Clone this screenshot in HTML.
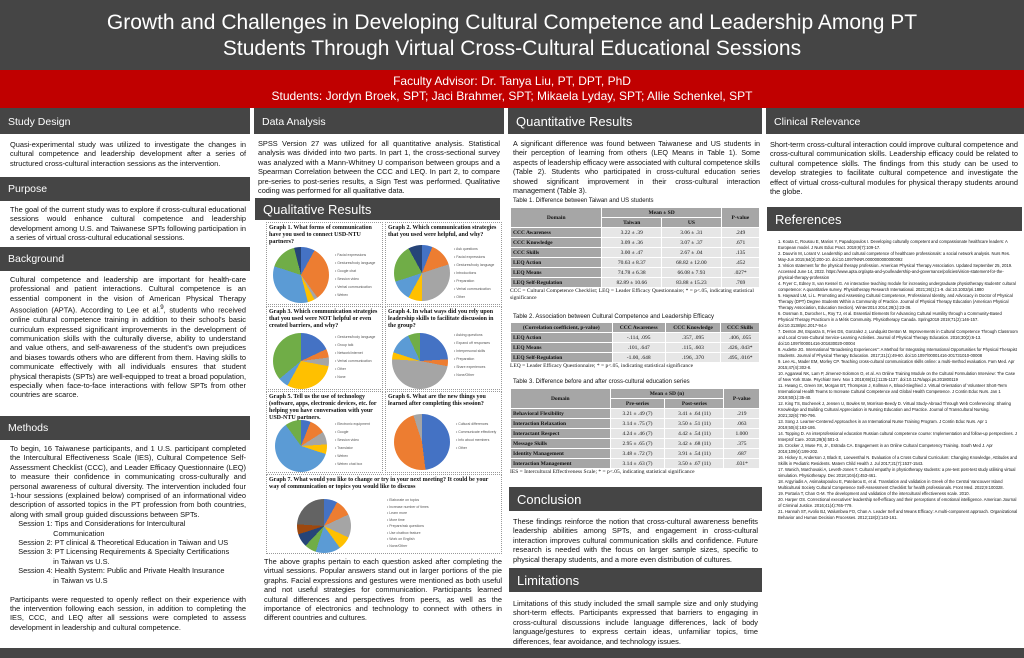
<!DOCTYPE html>
<html><head><meta charset="utf-8"><style>
*{margin:0;padding:0;box-sizing:border-box}
body{width:1024px;height:658px;overflow:hidden;background:#fff;font-family:"Liberation Sans",sans-serif;position:relative;color:#111}
.a{position:absolute}
.hdr{background:#454545;color:#fff;font-size:10.5px;padding:6px 8px;height:24px}
.hdr.big{font-size:13px;height:24px;padding:5px 8px}
.t{font-size:7.4px;line-height:9.4px;text-align:justify}
.ref{font-size:4.2px;line-height:6px}
table{border-collapse:collapse;font-family:"Liberation Serif",serif;font-size:5.5px;width:100%}
td,th{border:1px solid #fff;padding:1px 2px;text-align:center;height:10px}
th{background:#a6a6a6}
td.l{background:#a6a6a6;text-align:left;font-weight:bold}
td{background:#e6e6e6}
.cap{font-size:6px}
.g{border:1px dotted #999;background:#fff}
.gt{font-family:"Liberation Serif",serif;font-size:6px;font-weight:bold;line-height:7px;padding:2px}
.pie{border-radius:50%;position:absolute}
.lg{position:absolute;font-size:3.5px;line-height:8px;color:#555}
</style></head><body>
<div class="a" style="left:0;top:0;width:1024px;height:70px;background:#454545"></div>
<div class="a" style="left:0;top:10px;width:1024px;text-align:center;color:#fff;font-size:21px;line-height:26px">Growth and Challenges in Developing Cultural Competence and Leadership Among PT<br>Students Through Virtual Cross-Cultural Educational Sessions</div>
<div class="a" style="left:0;top:70px;width:1024px;height:38px;background:#c00000;color:#fff;text-align:center;font-size:12px;line-height:15px;padding-top:4px">Faculty Advisor: Dr. Tanya Liu, PT, DPT, PhD<br>Students: Jordyn Broek, SPT; Jaci Brahmer, SPT; Mikaela Lyday, SPT; Allie Schenkel, SPT</div>
<div class="a" style="left:0;top:648px;width:1024px;height:10px;background:#454545"></div>
<!-- col1 -->
<div class="a hdr" style="left:0;top:108px;width:250px;height:26px;padding-top:8px">Study Design</div>
<div class="a t" style="left:10px;top:140px;width:236px">Quasi-experimental study was utilized to investigate the changes in cultural competence and leadership development after a series of structured cross-cultural interaction sessions as the intervention.</div>
<div class="a hdr" style="left:0;top:177px;width:250px">Purpose</div>
<div class="a t" style="left:10px;top:205px;width:236px">The goal of the current study was to explore if cross-cultural educational sessions would enhance cultural competence and leadership development among U.S. and Taiwanese SPTs following participation in a series of virtual cross-cultural educational sessions.</div>
<div class="a hdr" style="left:0;top:247px;width:250px">Background</div>
<div class="a t" style="left:10px;top:275px;width:236px">Cultural competence and leadership are important for health-care professional and patient interactions. Cultural competence is an essential component in the vision of American Physical Therapy Association (APTA). According to Lee et al.<sup>9</sup>, students who received online cultural competence training in addition to their school's basic curriculum expressed significant improvements in the development of communication skills with the culturally diverse, ability to understand and value others, and self-awareness of the student's own prejudices and biases towards others who are different from them. Having skills to communicate effectively with all individuals ensures that student physical therapists (SPTs) are well-equipped to treat a broad population, especially when face-to-face interactions with fellow SPTs from other countries are scarce.</div>
<div class="a hdr" style="left:0;top:416px;width:250px">Methods</div>
<div class="a t" style="left:10px;top:444px;width:236px">To begin, 16 Taiwanese participants, and 1 U.S. participant completed the Intercultural Effectiveness Scale (IES), Cultural Competence Self-Assessment Checklist (CCC), and Leader Efficacy Questionnaire (LEQ) to measure their confidence in communicating cross-culturally and personal awareness of cultural diversity. The intervention included four 1-hour sessions (explained below) comprised of an informational video description of assorted topics in the PT profession from both countries, along with small group guided discussions between SPTs.<br>&nbsp;&nbsp;&nbsp;&nbsp;Session 1: Tips and Considerations for Intercultural<br>&nbsp;&nbsp;&nbsp;&nbsp;&nbsp;&nbsp;&nbsp;&nbsp;&nbsp;&nbsp;&nbsp;&nbsp;&nbsp;&nbsp;&nbsp;&nbsp;&nbsp;&nbsp;&nbsp;&nbsp;&nbsp;Communication<br>&nbsp;&nbsp;&nbsp;&nbsp;Session 2: PT clinical &amp; Theoretical Education in Taiwan and US<br>&nbsp;&nbsp;&nbsp;&nbsp;Session 3: PT Licensing Requirements &amp; Specialty Certifications<br>&nbsp;&nbsp;&nbsp;&nbsp;&nbsp;&nbsp;&nbsp;&nbsp;&nbsp;&nbsp;&nbsp;&nbsp;&nbsp;&nbsp;&nbsp;&nbsp;&nbsp;&nbsp;&nbsp;&nbsp;&nbsp;in Taiwan vs U.S.<br>&nbsp;&nbsp;&nbsp;&nbsp;Session 4: Health System: Public and Private Health Insurance<br>&nbsp;&nbsp;&nbsp;&nbsp;&nbsp;&nbsp;&nbsp;&nbsp;&nbsp;&nbsp;&nbsp;&nbsp;&nbsp;&nbsp;&nbsp;&nbsp;&nbsp;&nbsp;&nbsp;&nbsp;&nbsp;in Taiwan vs U.S<br><br>Participants were requested to openly reflect on their experience with the intervention following each session, in addition to completing the IES, CCC, and LEQ after all sessions were completed to assess development in leadership and cultural competence.</div>
<!-- col2 -->
<div class="a hdr" style="left:254px;top:108px;width:250px;height:26px;padding-top:8px">Data Analysis</div>
<div class="a t" style="left:258px;top:139px;width:242px">SPSS Version 27 was utilized for all quantitative analysis. Statistical analysis was divided into two parts. In part 1, the cross-sectional survey was analyzed with a Mann-Whitney U comparison between groups and a Spearman Correlation between the CCC and LEQ. In part 2, to compare pre-series to post-series results, a Sign Test was performed. Qualitative coding was performed for all qualitative data.</div>
<div class="a hdr big" style="left:255px;top:198px;width:245px;height:22px;padding-top:4px">Qualitative Results</div>
<div class="a g" style="left:266px;top:222px;width:117px;height:83px"><div class="gt">Graph 1. What forms of communication have you used to connect USD-NTU partners?</div><div class="pie" style="left:6px;top:24px;width:56px;height:56px;background:conic-gradient(#4472c4 0 8%,#ed7d31 8% 40%,#a5a5a5 40% 42%,#ffc000 42% 46%,#5b9bd5 46% 80%,#70ad47 80% 96%,#264478 96%)"></div><div class="lg" style="left:68px;top:28px">• Facial expressions<br>• Gestures/body language<br>• Google chat<br>• Session video<br>• Verbal communication<br>• Webex</div></div>
<div class="a g" style="left:385px;top:222px;width:117px;height:83px"><div class="gt">Graph 2. Which communication strategies that you used were helpful, and why?</div><div class="pie" style="left:8px;top:22px;width:56px;height:56px;background:conic-gradient(#4472c4 0 6%,#ed7d31 6% 20%,#a5a5a5 20% 50%,#ffc000 50% 58%,#5b9bd5 58% 70%,#70ad47 70% 92%,#264478 92%)"></div><div class="lg" style="left:68px;top:22px">• Ask questions<br>• Facial expressions<br>• Gestures/body language<br>• Introductions<br>• Preparation<br>• Verbal communication<br>• Other</div></div>
<div class="a g" style="left:266px;top:306px;width:117px;height:84px"><div class="gt">Graph 3. Which communication strategies that you used were NOT helpful or even created barriers, and why?</div><div class="pie" style="left:6px;top:26px;width:56px;height:56px;background:conic-gradient(#4472c4 0 18%,#ed7d31 18% 23%,#a5a5a5 23% 28%,#ffc000 28% 58%,#5b9bd5 58% 64%,#70ad47 64%)"></div><div class="lg" style="left:68px;top:26px">• Gestures/body language<br>• Group talk<br>• Network/internet<br>• Verbal communication<br>• Other<br>• None</div></div>
<div class="a g" style="left:385px;top:306px;width:117px;height:84px"><div class="gt">Graph 4. In what ways did you rely upon leadership skills to facilitate discussion in the group?</div><div class="pie" style="left:6px;top:26px;width:56px;height:56px;background:conic-gradient(#4472c4 0 24%,#ed7d31 24% 28%,#a5a5a5 28% 76%,#ffc000 76% 80%,#5b9bd5 80% 93%,#70ad47 93%)"></div><div class="lg" style="left:68px;top:24px">• Asking questions<br>• Expand off responses<br>• Interpersonal skills<br>• Preparation<br>• Share experiences<br>• None/Other</div></div>
<div class="a g" style="left:266px;top:391px;width:117px;height:82px"><div class="gt">Graph 5. Tell us the use of technology (software, apps, electronic devices, etc. for helping you have conversation with your USD-NTU partners.</div><div class="pie" style="left:8px;top:28px;width:52px;height:52px;background:conic-gradient(#4472c4 0 6%,#ed7d31 6% 16%,#a5a5a5 16% 24%,#ffc000 24% 30%,#5b9bd5 30% 90%,#70ad47 90%)"></div><div class="lg" style="left:68px;top:28px">• Electronic equipment<br>• Google<br>• Session video<br>• Translator<br>• Webex<br>• Webex chat box</div></div>
<div class="a g" style="left:385px;top:391px;width:117px;height:82px"><div class="gt">Graph 6. What are the new things you learned after completing this session?</div><div class="pie" style="left:8px;top:22px;width:56px;height:56px;background:conic-gradient(#4472c4 0 48%,#ed7d31 48% 95%,#a5a5a5 95%)"></div><div class="lg" style="left:70px;top:28px">• Cultural differences<br>• Communicate effectively<br>• Info about members<br>• Other</div></div>
<div class="a g" style="left:266px;top:474px;width:236px;height:80px"><div class="gt">Graph 7. What would you like to change or try in your next meeting? It could be your way of communication or topics you would like to discuss</div><div class="pie" style="left:30px;top:24px;width:54px;height:54px;background:conic-gradient(#4472c4 0 8%,#ed7d31 8% 18%,#a5a5a5 18% 32%,#ffc000 32% 40%,#5b9bd5 40% 55%,#70ad47 55% 62%,#264478 62% 70%,#9e480e 70% 76%,#636363 76%)"></div><div class="lg" style="left:120px;top:22px;line-height:6.5px">• Elaborate on topics<br>• Increase number of times<br>• Learn more<br>• More time<br>• Prepare/ask questions<br>• Use chatbox feature<br>• Work on English<br>• None/Other</div></div>
<div class="a t" style="left:264px;top:557px;width:238px">The above graphs pertain to each question asked after completing the virtual sessions. Popular answers stand out in larger portions of the pie graphs. Facial expressions and gestures were mentioned as both useful and not useful strategies for communication. Participants learned cultural differences and perspectives from peers, as well as the importance of electronics and technology to connect with others in different countries and cultures.</div>
<!-- col3 -->
<div class="a hdr big" style="left:508px;top:108px;width:254px;height:26px;padding-top:6px">Quantitative Results</div>
<div class="a t" style="left:513px;top:139px;width:247px;font-size:7.2px">A significant difference was found between Taiwanese and US students in their perception of learning from others (LEQ Means in Table 1). Some aspects of leadership efficacy were associated with cultural competence skills (Table 2). Students who participated in cross-cultural education series showed significant improvement in their cross-cultural interaction management (Table 3).</div>
<div class="a cap" style="left:513px;top:198px">Table 1. Difference between Taiwan and US students</div>
<div class="a" style="left:510px;top:207px;width:250px"><table>
<tr><th rowspan="2">Domain</th><th colspan="2">Mean ± SD</th><th rowspan="2">P-value</th></tr>
<tr><th>Taiwan</th><th>US</th></tr>
<tr><td class="l">CCC Awareness</td><td>3.22 ± .39</td><td>3.06 ± .31</td><td>.249</td></tr>
<tr><td class="l">CCC Knowledge</td><td>3.09 ± .36</td><td>3.07 ± .37</td><td>.671</td></tr>
<tr><td class="l">CCC Skills</td><td>3.00 ± .47</td><td>2.67 ± .04</td><td>.135</td></tr>
<tr><td class="l">LEQ Action</td><td>70.63 ± 8.37</td><td>68.82 ± 12.00</td><td>.452</td></tr>
<tr><td class="l">LEQ Means</td><td>74.78 ± 6.38</td><td>66.08 ± 7.93</td><td>.027*</td></tr>
<tr><td class="l">LEQ Self-Regulation</td><td>82.89 ± 10.66</td><td>83.88 ± 15.23</td><td>.769</td></tr></table>
<div style="font-family:'Liberation Serif',serif;font-size:5.5px;line-height:7px">CCC = Cultural Competence Checklist; LEQ = Leader Efficacy Questionnaire; * = p&lt;.05, indicating statistical significance</div></div>
<div class="a cap" style="left:513px;top:314px">Table 2. Association between Cultural Competence and Leadership Efficacy</div>
<div class="a" style="left:510px;top:322px;width:250px"><table>
<tr><th>(Correlation coefficient, p-value)</th><th>CCC Awareness</th><th>CCC Knowledge</th><th>CCC Skills</th></tr>
<tr><td class="l">LEQ Action</td><td>-.114, .095</td><td>.357, .095</td><td>.406, .055</td></tr>
<tr><td class="l">LEQ Means</td><td>.101, .647</td><td>.115, .603</td><td>.426, .043*</td></tr>
<tr><td class="l">LEQ Self-Regulation</td><td>-1.00, .648</td><td>.196, .370</td><td>.495, .016*</td></tr></table>
<div style="font-family:'Liberation Serif',serif;font-size:5.5px;line-height:7px">LEQ = Leader Efficacy Questionnaire; * = p&lt;.05, indicating statistical significance</div></div>
<div class="a cap" style="left:513px;top:379px">Table 3. Difference before and after cross-cultural education series</div>
<div class="a" style="left:510px;top:388px;width:250px"><table>
<tr><th rowspan="2">Domain</th><th colspan="2">Mean ± SD (n)</th><th rowspan="2">P-value</th></tr>
<tr><th>Pre-series</th><th>Post-series</th></tr>
<tr><td class="l">Behavioral Flexibility</td><td>3.21 ± .49 (7)</td><td>3.41 ± .64 (11)</td><td>.219</td></tr>
<tr><td class="l">Interaction Relaxation</td><td>3.14 ± .75 (7)</td><td>3.50 ± .51 (11)</td><td>.063</td></tr>
<tr><td class="l">Interactant Respect</td><td>4.24 ± .46 (7)</td><td>4.42 ± .54 (11)</td><td>1.000</td></tr>
<tr><td class="l">Message Skills</td><td>2.95 ± .65 (7)</td><td>3.42 ± .68 (11)</td><td>.375</td></tr>
<tr><td class="l">Identity Management</td><td>3.48 ± .72 (7)</td><td>3.91 ± .54 (11)</td><td>.687</td></tr>
<tr><td class="l">Interaction Management</td><td>3.14 ± .63 (7)</td><td>3.50 ± .67 (11)</td><td>.031*</td></tr></table>
<div style="font-family:'Liberation Serif',serif;font-size:5.5px;line-height:7px">IES = Intercultural Effectiveness Scale; * = p&lt;.05, indicating statistical significance</div></div>
<div class="a hdr big" style="left:509px;top:487px;width:253px">Conclusion</div>
<div class="a t" style="left:513px;top:517px;width:245px">These findings reinforce the notion that cross-cultural awareness benefits leadership abilities among SPTs, and engagement in cross-cultural interaction improves cultural communication skills and confidence. Future research is needed with the focus on larger sample sizes, specific to physical therapy students, and a more even distribution of cultures.</div>
<div class="a hdr big" style="left:509px;top:568px;width:253px">Limitations</div>
<div class="a t" style="left:513px;top:599px;width:245px">Limitations of this study included the small sample size and only studying short-term effects. Participants expressed that barriers to engaging in cross-cultural discussions include language differences, lack of body language/gestures to express certain ideas, unfamiliar topics, time differences, fear avoidance, and technology issues.</div>
<!-- col4 -->
<div class="a hdr" style="left:766px;top:108px;width:258px;height:26px;padding-top:8px">Clinical Relevance</div>
<div class="a t" style="left:770px;top:140px;width:248px">Short-term cross-cultural interaction could improve cultural competence and cross-cultural communication skills. Leadership efficacy could be related to cultural competence skills. The findings from this study can be used to develop strategies to facilitate cultural competence and investigate the effect of virtual cross-cultural modules for physical therapy students around the globe.</div>
<div class="a hdr big" style="left:767px;top:207px;width:255px">References</div>
<div class="a ref" style="left:778px;top:239px;width:240px">1. Kouta C, Rousou E, Marios Y, Papadopoulos I. Developing culturally competent and compassionate healthcare leaders: A European model. J Nurs Educ Pract. 2019;9(7):109-17.<br>2. Dauvrin M, Lorant V. Leadership and cultural competence of healthcare professionals: a social network analysis. Nurs Res. May-Jun 2015;64(3):200-10. doi:10.1097/NNR.0000000000000092<br>3. Vision statement for the physical therapy profession. American Physical Therapy Association. Updated September 25, 2019. Accessed June 14, 2022. https://www.apta.org/apta-and-you/leadership-and-governance/policies/vision-statement-for-the-physical-therapy-profession<br>4. Fryer C, Edney S, van Kessel G. An interactive teaching module for increasing undergraduate physiotherapy students' cultural competence: A quantitative survey. Physiotherapy Research International. 2021;26(1):1-9. doi:10.1002/pri.1880<br>5. Hayward LM, Li L. Promoting and Assessing Cultural Competence, Professional Identity, and Advocacy in Doctor of Physical Therapy (DPT) Degree Students Within a Community of Practice. Journal of Physical Therapy Education (American Physical Therapy Association, Education Section). Winter2014 2014;28(1):23-36.<br>6. Oosman S, Durocher L, Roy TJ, et al. Essential Elements for Advancing Cultural Humility through a Community-Based Physical Therapy Practicum in a Métis Community. Physiotherapy Canada. Spring2019 2019;71(2):146-157. doi:10.3138/ptc.2017-94.e<br>7. Denton JM, Esparza S, Fries DS, Gonzalez J, Lundquist Denton M. Improvements in Cultural Competence Through Classroom and Local Cross-Cultural Service-Learning Activities. Journal of Physical Therapy Education. 2016;30(2):6-13. doi:10.1097/00001416-201630020-00004<br>8. Audette JG. International "Broadening Experiences": A Method for Integrating International Opportunities for Physical Therapist Students. Journal of Physical Therapy Education. 2017;31(1):49-60. doi:10.1097/00001416-201731010-00008<br>9. Lee AL, Mader EM, Morley CP. Teaching cross-cultural communication skills online: a multi-method evaluation. Fam Med. Apr 2015;47(4):302-8.<br>10. Aggarwal NK, Lam P, Jimenez-Solomon O, et al. An Online Training Module on the Cultural Formulation Interview: The Case of New York State. Psychiatr Serv. Nov 1 2018;69(11):1135-1137. doi:10.1176/appi.ps.201800119<br>11. Hwang C, Green SK, Morgan BT, Thompson J, Kollman A, Blood-Siegfried J. Virtual Orientation of Volunteer Short-Term International Health Teams to Increase Cultural Competence and Global Health Competence. J Contin Educ Nurs. Jan 1 2019;50(1):35-40.<br>12. King TS, Bochenek J, Jensen U, Bowles W, Morrison-Beedy D. Virtual Study-Abroad Through Web Conferencing: Sharing Knowledge and Building Cultural Appreciation in Nursing Education and Practice. Journal of Transcultural Nursing. 2021;32(6):790-796.<br>13. Song J. Learner-Centered Approaches in an International Nurse Training Program. J Contin Educ Nurs. Apr 1 2019;50(4):183-186.<br>14. Topping D. An interprofessional education Russian cultural competence course: Implementation and follow-up perspectives. J Interprof Care. 2015;29(5):501-3.<br>15. Crocker J, Muse FS, Jr., Estrada CA. Engagement in an Online Cultural Competency Training. South Med J. Apr 2016;109(4):199-202.<br>16. Hickey S, Anderson J, Black E, Loewenthal N. Evaluation of a Cross Cultural Curriculum: Changing Knowledge, Attitudes and Skills in Pediatric Residents. Matern Child Health J. Jul 2017;21(7):1537-1543.<br>17. Wanich, Marchovaki A, Leveth-Jones T. Cultural empathy in physiotherapy students: a pre-test post-test study utilising virtual simulation. Physiotherapy. Dec 2018;104(4):453-461.<br>18. Argyriadis A, Asimakopoulou E, Patelarou E, et al. Translation and validation in Greek of the Central Vancouver Island Multicultural Society Cultural Competence Self-Assessment Checklist for health professionals. Front Med. 2022;9:100328.<br>19. Portaria T, Chan G-M. The development and validation of the intercultural effectiveness scale. 2010.<br>20. Harper OS. Correctional executives' leadership self-efficacy and their perceptions of emotional intelligence. American Journal of Criminal Justice. 2016;41(4):765-779.<br>21. Hannah ST, Avolio BJ, Walumbwa FO, Chan A. Leader Self and Means Efficacy: A multi-component approach. Organizational Behavior and Human Decision Processes. 2012;118(2):143-161.</div>
</body></html>
